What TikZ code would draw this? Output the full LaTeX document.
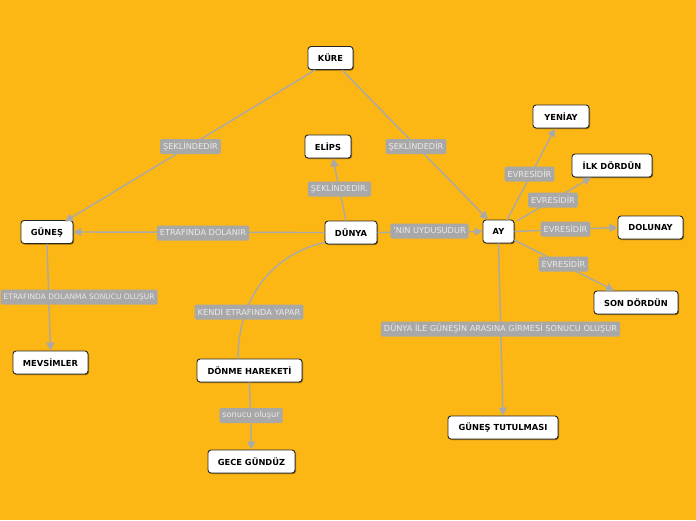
\documentclass[tikz,border=0pt]{standalone}
\usepackage{fontspec}
\setmainfont{DejaVu Sans}
\usetikzlibrary{shadows,arrows.meta}
\definecolor{bg}{HTML}{FDB714}
\definecolor{edge}{HTML}{A9A9A9}
\definecolor{lblfill}{HTML}{A8A8A8}
\definecolor{lbltext}{HTML}{EAEAEA}
\tikzset{
  concept/.style={draw=black!85, line width=0.9pt, fill=white, rounded corners=3pt,
    font=\fontsize{8.3}{10}\selectfont\bfseries, minimum height=23pt, inner xsep=6pt,
    drop shadow={shadow xshift=1pt, shadow yshift=-1pt, fill=black, opacity=0.45}},
  lbl/.style={fill=lblfill, text=lbltext, rounded corners=1.5pt, font=\fontsize{8.2}{9}\selectfont,
    minimum height=15pt, inner xsep=3pt, inner ysep=1pt},
  conn/.style={draw=edge, line width=1.4pt, -{Triangle[length=8pt,width=8pt]}},
  connn/.style={draw=edge, line width=1.4pt}
}
\begin{document}
\begin{tikzpicture}[x=1pt,y=-1pt]
\fill[bg] (0,0) rectangle (696,520);
\useasboundingbox (0,0) rectangle (696,520);
% nodes
\node[concept, minimum width=45pt] (kure) at (330.5,58) {KÜRE};
\node[concept, minimum width=46pt] (elips) at (328,146.5) {ELİPS};
\node[concept, minimum width=52pt] (gunes) at (47,232) {GÜNEŞ};
\node[concept, minimum width=52pt] (dunya) at (351,232.5) {DÜNYA};
\node[concept, minimum width=31pt] (ay) at (498.5,231.5) {AY};
\node[concept, minimum width=56pt] (yeniay) at (561,116.5) {YENİAY};
\node[concept, minimum width=80pt] (ilk) at (612,165.5) {İLK DÖRDÜN};
\node[concept, minimum width=65pt] (dolunay) at (650.5,227.5) {DOLUNAY};
\node[concept, minimum width=84pt] (son) at (636,302.5) {SON DÖRDÜN};
\node[concept, minimum width=75pt] (mevsim) at (50.5,362.5) {MEVSİMLER};
\node[concept, minimum width=105pt] (donme) at (249.5,370.5) {DÖNME HAREKETİ};
\node[concept, minimum width=87pt] (gece) at (251.5,461.5) {GECE GÜNDÜZ};
\node[concept, minimum width=110pt] (tutulma) at (503,427.5) {GÜNEŞ TUTULMASI};
% connectors
\coordinate (k1) at (315,70);
\coordinate (k2) at (342,70);
\draw[conn] (k1) -- (65,221.5) coordinate (g1);
\draw[conn] (k2) -- (488,219.5) coordinate (a1);
\draw[conn] (dunya.north) ++(-5,0) coordinate (d1) -- (333,158.5);
\draw[conn] (dunya.west) -- (gunes.east);
\draw[conn] (dunya.east) -- (ay.west);
\draw[conn] (507,220) coordinate (a2) -- (555,128.5);
\draw[conn] (517,221) coordinate (a3) -- (591,177.5);
\draw[conn] (ay.east) -- (dolunay.west);
\draw[conn] (514,240) coordinate (a4) -- (614,290.5);
\draw[conn] (ay.south) -- (tutulma.north);
\draw[conn] (gunes.south) -- (mevsim.north);
\draw[connn] (dunya.south west) ++(0,-2) coordinate (d2) .. controls (270,255) and (238,300) .. (238,359) coordinate (dn1);
\draw[conn] (donme.south) -- (gece.north);
% labels
\node[lbl] (l1) at (190.5,146.5) {ŞEKLİNDEDİR};
\node[lbl] (l2) at (416,146.5) {ŞEKLİNDEDİR};
\node[lbl] (l3) at (339.5,189) {ŞEKLİNDEDİR.};
\node[lbl] (l4) at (203,233) {ETRAFINDA DOLANIR};
\node[lbl] (l5) at (429.5,231) {'NIN UYDUSUDUR};
\node[lbl] (l6) at (529.5,174) {EVRESİDİR};
\node[lbl] (l7) at (553,200) {EVRESİDİR};
\node[lbl] (l8) at (565.5,229) {EVRESİDİR};
\node[lbl] (l9) at (563.5,264) {EVRESİDİR};
\node[lbl, anchor=west, font=\fontsize{7.5}{9}\selectfont] (l10) at (0.5,297) {ETRAFINDA DOLANMA SONUCU OLUŞUR};
\node[lbl] (l11) at (249,312) {KENDİ ETRAFINDA YAPAR};
\node[lbl] (l12) at (500.5,329) {DÜNYA İLE GÜNEŞİN ARASINA GİRMESİ SONUCU OLUŞUR};
\node[lbl] (l13) at (251,415.5) {sonucu oluşur};
\end{tikzpicture}
\end{document}
